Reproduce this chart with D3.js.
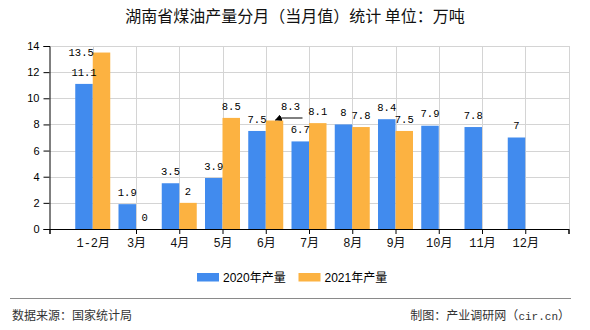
<!DOCTYPE html>
<html>
<head>
<meta charset="utf-8">
<script src="https://cdn.jsdelivr.net/npm/d3@7/dist/d3.min.js"></script>
<style>
  html, body { margin: 0; padding: 0; background: #fff; }
  svg { display: block; }
</style>
</head>
<body>
<svg id="chart" width="590" height="330"></svg>
<script>
// Monthly kerosene output, Hunan province (10k tonnes)
const categories = ["1-2月", "3月", "4月", "5月", "6月", "7月", "8月", "9月", "10月", "11月", "12月"];
const seriesNames = ["2020年产量", "2021年产量"];
const values2020 = [11.1, 1.9, 3.5, 3.9, 7.5, 6.7, 8, 8.4, 7.9, 7.8, 7];
const values2021 = [13.5, 0, 2, 8.5, 8.3, 8.1, 7.8, 7.5, null, null, null];
const yTicks = [0, 2, 4, 6, 8, 10, 12, 14];

const colors = ["#418bee", "#fcb241"];
const titleText = "湖南省煤油产量分月（当月值）统计 单位：万吨";
const sourceText = "数据来源：国家统计局";

const svg = d3.select("#chart");
const W = 590;
const plot = { left: 49.5, right: 568.5, top: 46, bottom: 229 };
const barW = 17.5;

// categories sit on integer positions 1..11 with an empty slot at each end
const x = d3.scaleLinear().domain([0, categories.length + 1]).range([plot.left, plot.right]);
const y = d3.scaleLinear().domain([0, 14]).range([plot.bottom, plot.top]);

// title
svg.append("text")
  .attr("x", W / 2).attr("y", 22)
  .attr("text-anchor", "middle")
  .style("font-family", "'Noto Sans CJK SC', sans-serif")
  .style("font-size", "16px")
  .style("fill", "#111")
  .text(titleText);

// grid
const grid = svg.append("g").attr("stroke", "#d4d4d4").attr("stroke-width", 1).attr("shape-rendering", "crispEdges");
grid.selectAll("line.h").data(yTicks.filter(d => d > 0)).join("line")
  .attr("x1", plot.left).attr("x2", plot.right)
  .attr("y1", d => Math.round(y(d)) + 0.5).attr("y2", d => Math.round(y(d)) + 0.5);
grid.selectAll("line.v").data(d3.range(1, categories.length + 2)).join("line")
  .attr("x1", d => Math.round(x(d)) + 0.5).attr("x2", d => Math.round(x(d)) + 0.5)
  .attr("y1", plot.top).attr("y2", plot.bottom);

// bars
const series = [values2020, values2021];
const offsets = [-barW, 0];
series.forEach((vals, s) => {
  svg.append("g").selectAll("rect").data(vals.map((v, i) => ({ v, i })).filter(d => d.v != null)).join("rect")
    .attr("x", d => x(d.i + 1) + offsets[s])
    .attr("width", barW)
    .attr("y", d => y(d.v))
    .attr("height", d => y(0) - y(d.v))
    .attr("fill", colors[s]);
});

// axes
const yAxis = d3.axisLeft(y).tickValues(yTicks).tickSize(6).tickPadding(4);
const gy = svg.append("g").attr("transform", `translate(${plot.left},0)`).call(yAxis);
gy.select(".domain").attr("stroke", "#000");
gy.selectAll(".tick line").attr("stroke", "#000");
gy.selectAll("text").style("font-family", "'Liberation Sans', sans-serif").style("font-size", "11px").style("fill", "#000");

const xTickVals = d3.range(0, categories.length + 2).filter(k => k !== 1);
const xAxis = d3.axisBottom(x).tickValues(d3.range(0, categories.length + 2)).tickSize(5).tickPadding(4)
  .tickFormat(k => (k >= 1 && k <= categories.length) ? categories[k - 1] : "");
const gx = svg.append("g").attr("transform", `translate(0,${plot.bottom})`).call(xAxis);
gx.select(".domain").attr("stroke", "#000");
gx.selectAll(".tick line").attr("stroke", "#000").style("display", k => xTickVals.includes(k) ? null : "none");
gx.selectAll("text").style("font-family", "'Liberation Mono', 'Noto Sans CJK SC', monospace").style("font-size", "12px").style("fill", "#111");

// value labels
const labelFont = "'Liberation Mono', monospace";
const callout = { s: 1, i: 4, dx: 16, dy: -2 }; // label pulled aside with a leader arrow
const defs = svg.append("defs");
defs.append("marker").attr("id", "arrow").attr("viewBox", "0 0 10 10")
  .attr("refX", 9).attr("refY", 5).attr("markerWidth", 7).attr("markerHeight", 7)
  .attr("markerUnits", "userSpaceOnUse")
  .attr("orient", "auto")
  .append("path").attr("d", "M0,0 L10,5 L0,10 Z").attr("fill", "#000");

const labels = svg.append("g")
  .style("font-family", labelFont).style("font-size", "10.5px").style("fill", "#000");
series.forEach((vals, s) => {
  vals.forEach((v, i) => {
    if (v == null) return;
    const cx = x(i + 1) + offsets[s] + barW / 2;
    const top = y(v);
    let lx = cx, ly = top - 12, anchor = "middle";
    if (ly - 6 < plot.top) {
      // no room above the plot: set the label beside the bar instead
      lx = x(i + 1) + offsets[s] + 1; ly = top; anchor = "end";
    }
    if (s === callout.s && i === callout.i) {
      lx = cx + callout.dx; ly = top - 12 + callout.dy;
      // leader: a short rule under the label, ending in an arrow at the bar top
      labels.append("line")
        .attr("x1", lx + 12).attr("y1", top - 2.5).attr("x2", cx + 6).attr("y2", top - 2.5)
        .attr("stroke", "#000").attr("stroke-width", 1);
      labels.append("line")
        .attr("x1", cx + 6).attr("y1", top - 2.5).attr("x2", cx + 1).attr("y2", top - 0.5)
        .attr("stroke", "#000").attr("stroke-width", 1)
        .attr("marker-end", "url(#arrow)");
    }
    labels.append("text")
      .attr("x", lx).attr("y", ly).attr("dy", "0.35em")
      .attr("text-anchor", anchor)
      .text(v);
  });
});

// legend
const legend = svg.append("g");
const legendX = [197, 298.5];
seriesNames.forEach((name, s) => {
  legend.append("rect").attr("x", legendX[s]).attr("y", 273).attr("width", 22).attr("height", 8.5).attr("fill", colors[s]);
  legend.append("text").attr("x", legendX[s] + 26).attr("y", 277.5).attr("dy", "0.35em")
    .style("font-family", "'Liberation Sans', 'Noto Sans CJK SC', sans-serif").style("font-size", "12px").style("fill", "#000")
    .text(name);
});

// footer
svg.append("line").attr("x1", 10).attr("x2", 571).attr("y1", 298.5).attr("y2", 298.5)
  .attr("stroke", "#8a8a8a").attr("stroke-width", 1);
svg.append("text").attr("x", 12).attr("y", 316).attr("dy", "0.35em")
  .style("font-family", "'Noto Sans CJK SC', sans-serif").style("font-size", "12px").style("fill", "#333")
  .text(sourceText);
const credit = svg.append("text").attr("x", 570).attr("y", 316).attr("dy", "0.35em").attr("text-anchor", "end")
  .style("font-family", "'Noto Sans CJK SC', sans-serif").style("font-size", "12px").style("fill", "#333");
credit.append("tspan").text("制图：产业调研网（");
credit.append("tspan").style("font-family", "'Liberation Mono', monospace").style("font-size", "11px").text("cir.cn");
credit.append("tspan").text("）");
</script>
</body>
</html>
